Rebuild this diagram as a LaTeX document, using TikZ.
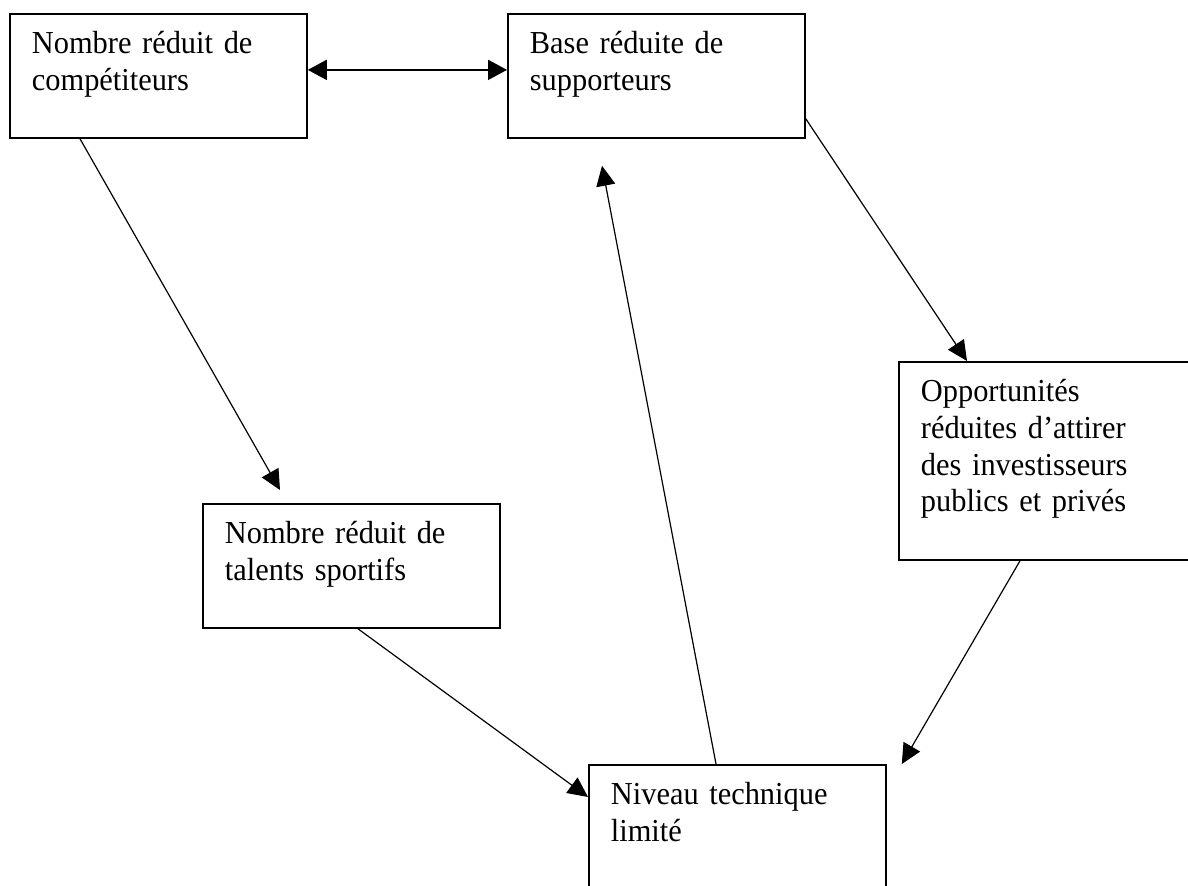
\documentclass[tikz,border=0pt]{standalone}
\usepackage{fontspec}
\setmainfont{Liberation Serif}[FakeStretch=0.95,WordSpace=0.8]
\usetikzlibrary{arrows.meta}
\begin{document}
\begin{tikzpicture}[x=0.5pt,y=-0.5pt,
    box/.style={draw=black, line width=0.9pt, anchor=north west, align=left,
      text width=126.5pt, inner xsep=11pt, inner ysep=0pt, text height=20pt,
      text depth=42pt, font=\fontsize{16pt}{18.3pt}\selectfont},
    link/.style={line width=0.6pt, -{Triangle[length=10pt,width=9.5pt]}},
    twoway/.style={line width=1pt, {Triangle[length=9.5pt,width=10pt]}-{Triangle[length=9.5pt,width=10pt]}}]
        \useasboundingbox (0,0) rectangle (1188,886);

        \node[box] (comp) at (9,13) {Nombre réduit de\\compétiteurs};
        \node[box] (supp) at (507,13) {Base réduite de\\supporteurs};
        \node[box, text depth=79pt] (invest) at (898,361) {Opportunités\\réduites d’attirer\\des investisseurs\\publics et privés};
        \node[box] (talent) at (202,503) {Nombre réduit de\\talents sportifs};
        \node[box] (niveau) at (588,764) {Niveau technique\\limité};

        \path [twoway] ([yshift=3pt]comp.east) edge ([yshift=3pt]supp.west);
        \path [link] ([xshift=35.5pt]comp.south west) edge ([xshift=39pt,yshift=6.5pt]talent.north west);
        \path [link] ([yshift=10pt]supp.south east) edge ([xshift=34.5pt]invest.north west);
        \path [link] ([xshift=61pt]invest.south west) edge ([xshift=7.5pt]niveau.north east);
        \path [link] ([xshift=78pt]talent.south west) edge ([yshift=-16.5pt]niveau.north west);
        \path [link] ([xshift=64pt]niveau.north west) edge ([xshift=47.5pt,yshift=-13.5pt]supp.south west);
    \end{tikzpicture}
\end{document}
